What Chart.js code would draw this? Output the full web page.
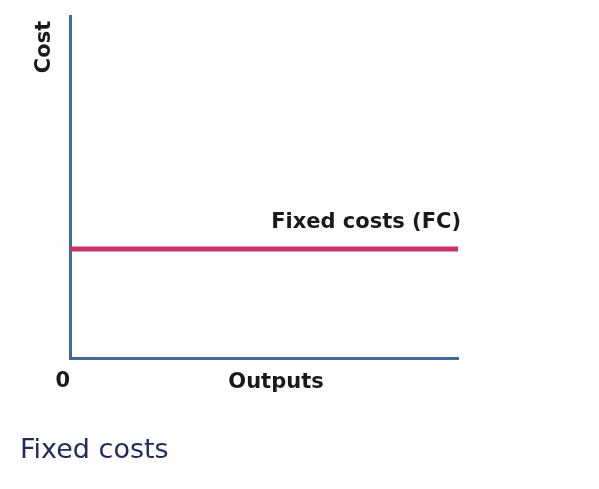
<!DOCTYPE html>
<html>
<head>
<meta charset="utf-8">
<script src="https://cdn.jsdelivr.net/npm/chart.js@4"></script>
<style>
  html, body { margin: 0; padding: 0; background: #fff; }
  #wrap { width: 599px; height: 489px; }
</style>
</head>
<body>
<div id="wrap"><canvas id="myChart"></canvas></div>
<script>
const outputs = [0, 10];
const fixedCosts = [32, 32];
const xTickLabels = ['0'];
const lineLabel = 'Fixed costs (FC)';
const xTitle = 'Outputs';
const yTitle = 'Cost';
const chartTitle = 'Fixed costs';

const axisColor = '#3f6b95';
const lineColor = '#c8346a';
const textFont = '"DejaVu Sans", sans-serif';

// labels drawn next to the axes and the line
const labelPlugin = {
    id: 'labels',
    afterDraw(chart) {
        const c = chart.ctx;
        const x = chart.scales.x;
        const y = chart.scales.y;
        c.save();
        c.fillStyle = '#1a1a1a';
        c.font = 'bold 21px ' + textFont;
        c.textBaseline = 'alphabetic';

        // line label, right aligned at the end of the line
        c.textAlign = 'right';
        c.fillText(lineLabel, x.right + 3, y.getPixelForValue(fixedCosts[fixedCosts.length - 1]) - 21);

        // x axis title
        c.textAlign = 'center';
        c.fillText(xTitle, x.left + 206, y.bottom + 29);

        // y axis title, rotated
        c.translate(x.left - 20, y.top + 31);
        c.rotate(-Math.PI / 2);
        c.textAlign = 'center';
        c.fillText(yTitle, 0, 0);
        c.restore();
    }
};

ctx = document.getElementById('myChart');
new Chart(ctx, {
    type: 'line',
    data: {
        datasets: [{
            label: lineLabel,
            data: outputs.map((o, i) => ({ x: o, y: fixedCosts[i] })),
            borderColor: lineColor,
            borderWidth: 5,
            pointRadius: 0,
            fill: false
        }]
    },
    options: {
        responsive: true,
        maintainAspectRatio: false,
        animation: false,
        layout: {
            padding: { left: 20, top: 16, right: 141, bottom: 22 }
        },
        plugins: {
            legend: { display: false },
            tooltip: { enabled: false },
            title: {
                display: true,
                text: chartTitle,
                position: 'bottom',
                align: 'start',
                color: '#1f2b5c',
                font: { family: textFont, size: 27, weight: 'normal' },
                padding: 0
            }
        },
        scales: {
            x: {
                type: 'linear',
                min: outputs[0],
                max: outputs[outputs.length - 1],
                grid: { display: false },
                border: { display: true, color: axisColor, width: 3 },
                afterFit(scale) { scale.height = 76; },
                ticks: {
                    stepSize: 10,
                    padding: 2,
                    align: 'end',
                    color: '#1a1a1a',
                    font: { family: textFont, size: 21, weight: 'bold' },
                    callback: (v, i) => i < xTickLabels.length ? xTickLabels[i] : ''
                }
            },
            y: {
                min: 0,
                max: 100,
                grid: { display: false },
                border: { display: true, color: axisColor, width: 3 },
                afterFit(scale) { scale.width = 50; },
                ticks: { display: false }
            }
        }
    },
    plugins: [labelPlugin]
});
</script>
</body>
</html>
